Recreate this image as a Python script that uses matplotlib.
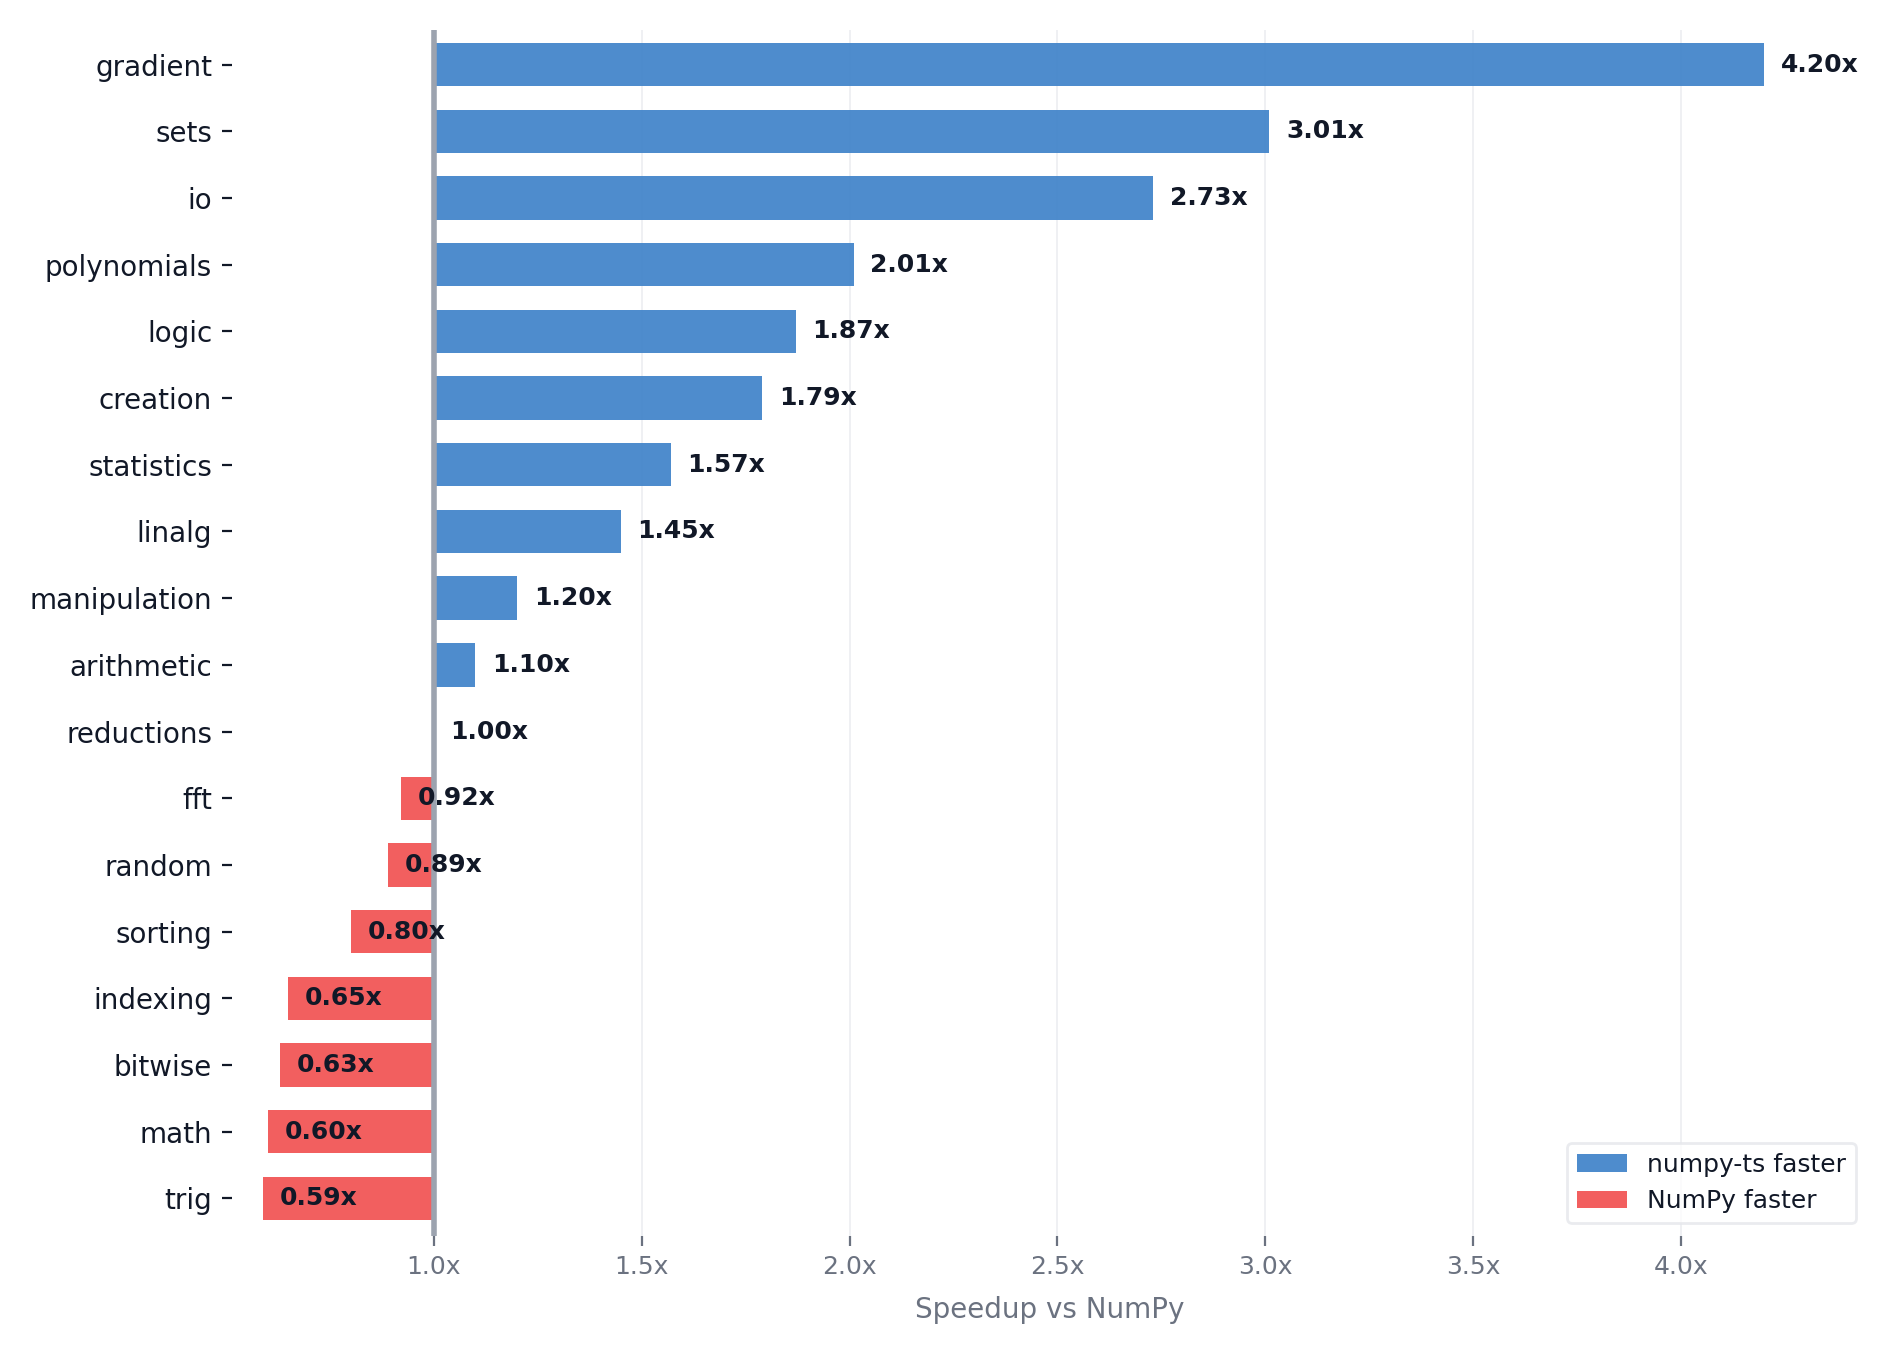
import matplotlib.pyplot as plt
from matplotlib.patches import Patch

# speedup de numpy-ts em relação ao NumPy, por categoria
categorias = ["gradient", "sets", "io", "polynomials", "logic", "creation",
              "statistics", "linalg", "manipulation", "arithmetic", "reductions",
              "fft", "random", "sorting", "indexing", "bitwise", "math", "trig"]
speedup = [4.20, 3.01, 2.73, 2.01, 1.87, 1.79, 1.57, 1.45, 1.20, 1.10, 1.00,
           0.92, 0.89, 0.80, 0.65, 0.63, 0.60, 0.59]
ticks_x = [1.0, 1.5, 2.0, 2.5, 3.0, 3.5, 4.0]

azul = "#3b80c8"
vermelho = "#f14e4e"
cinza_txt = "#6b7280"
escuro = "#111827"

fig = plt.figure(figsize=(9.495, 6.79), dpi=200)
ax = fig.add_axes([0.122, 0.090, 0.862, 0.888])

y = list(range(len(categorias)))
cores = [azul if v >= 1 else vermelho for v in speedup]
larguras = [v - 1 for v in speedup]
ax.barh(y, larguras, left=1, height=0.65, color=cores, alpha=0.9, zorder=2)

for yi, v in zip(y, speedup):
    ax.text(v + 0.04, yi, f"{v:.2f}x", va="center", ha="left",
            fontsize=9, fontweight="bold", color=escuro, zorder=4)

ax.axvline(1, color="#9ca3af", lw=2, zorder=3)

ax.set_yticks(y)
ax.set_yticklabels(categorias, fontsize=10, color=escuro)
ax.set_ylim(17.56, -0.52)
ax.set_xlim(0.5135, 4.4515)
ax.set_xticks(ticks_x)
ax.set_xticklabels([f"{t:.1f}x" for t in ticks_x], fontsize=9, color=cinza_txt)
ax.tick_params(axis="x", colors=cinza_txt, labelcolor=cinza_txt)
ax.tick_params(axis="y", colors=escuro)
ax.set_xlabel("Speedup vs NumPy", fontsize=10, color=cinza_txt, labelpad=6)

ax.grid(True, axis="x", color="#eceef1", lw=0.6, zorder=0)
ax.set_axisbelow(True)
for s in ax.spines.values():
    s.set_visible(False)

handles = [Patch(facecolor=azul, alpha=0.9, label="numpy-ts faster"),
           Patch(facecolor=vermelho, alpha=0.9, label="NumPy faster")]
leg = ax.legend(handles=handles, loc="lower right", fontsize=9,
                frameon=True, edgecolor="#e5e7eb", fancybox=True)
for t in leg.get_texts():
    t.set_color(escuro)

plt.savefig("out.png", dpi=200)
